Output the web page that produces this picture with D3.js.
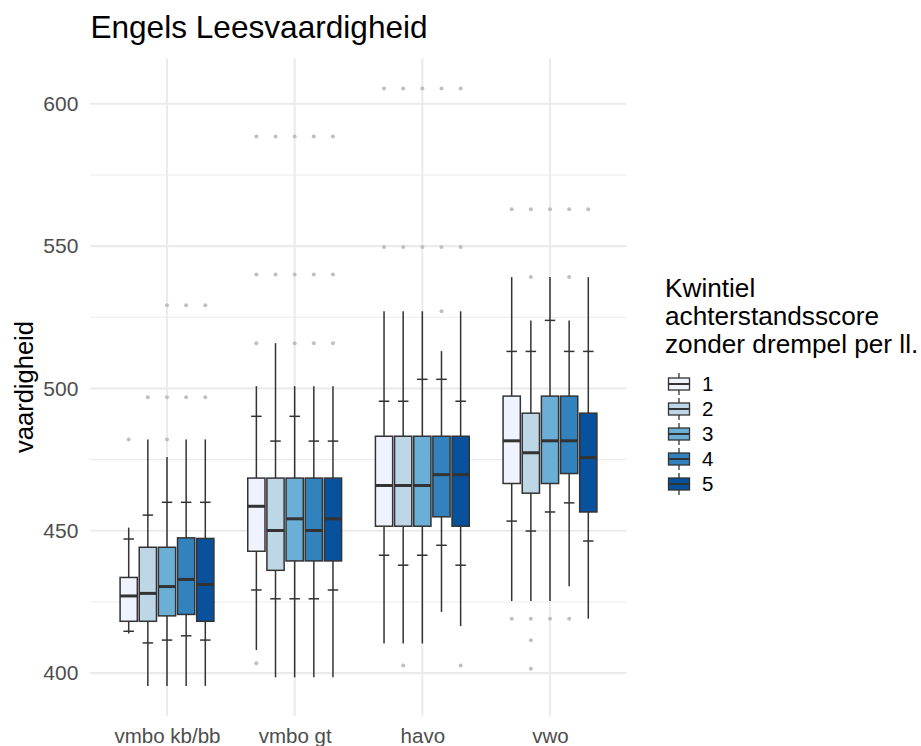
<!DOCTYPE html>
<html>
<head>
<meta charset="utf-8">
<script src="https://cdn.jsdelivr.net/npm/d3@7"></script>
<style>
  html, body { margin: 0; padding: 0; background: #ffffff; }
  svg { display: block; font-family: "Liberation Sans", Arial, Helvetica, sans-serif; }
</style>
</head>
<body>
<svg id="chart" width="921" height="746"></svg>
<script>
// Schooltypes on the x axis and the five quintile groups within each
const categories = ["vmbo kb/bb", "vmbo gt", "havo", "vwo"];
const quintiles = ["1", "2", "3", "4", "5"];
const fills = ["#eff3ff", "#bdd7e7", "#6baed6", "#3182bd", "#08519c"];

// Box statistics per schooltype (rows) and quintile (columns)
const whiskerHigh = [
  [451.1, 482.1, 475.9, 482.1, 482.1],
  [500.8, 515.9, 500.8, 500.8, 500.8],
  [527.1, 527.1, 527.1, 513.1, 527.1],
  [539.1, 523.9, 539.1, 523.9, 539.1]
];
const tickHigh = [
  [447.1, 455.5, 460.0, 460.0, 460.0],
  [490.2, 481.5, 490.2, 481.5, 481.5],
  [495.5, 495.5, 503.2, 503.2, 495.5],
  [513.0, 513.0, 523.9, 513.0, 513.0]
];
const q3 = [
  [433.6, 444.2, 444.2, 447.5, 447.3],
  [468.5, 468.5, 468.5, 468.5, 468.5],
  [483.2, 483.2, 483.2, 483.2, 483.2],
  [497.3, 491.3, 497.3, 497.3, 491.3]
];
const median = [
  [427.1, 428.0, 430.4, 432.9, 431.1],
  [458.6, 450.1, 454.2, 450.1, 454.2],
  [465.9, 465.9, 465.9, 469.7, 469.7],
  [481.6, 477.4, 481.6, 481.6, 475.7]
];
const q1 = [
  [418.2, 418.2, 420.1, 420.6, 418.2],
  [442.8, 436.1, 439.4, 439.4, 439.4],
  [451.6, 451.6, 451.6, 454.9, 451.6],
  [466.6, 463.2, 466.6, 470.1, 456.6]
];
const tickLow = [
  [414.7, 410.6, 411.6, 413.1, 411.6],
  [429.2, 426.1, 426.1, 426.1, 429.2],
  [441.4, 437.9, 441.4, 444.9, 437.9],
  [453.4, 449.9, 456.6, 459.8, 446.4]
];
const whiskerLow = [
  [413.9, 395.5, 395.5, 395.5, 395.5],
  [408.1, 398.5, 398.5, 398.5, 398.5],
  [410.4, 410.4, 410.4, 421.5, 416.5],
  [425.3, 425.3, 425.3, 430.5, 419.1]
];
// Outlying scores: [schooltype index, quintile index, value]
const outliers = [
  [0, 0, 482.1], [0, 1, 496.9], [0, 2, 496.9], [0, 2, 482.1], [0, 2, 529.2],
  [0, 3, 496.9], [0, 3, 529.2], [0, 4, 496.9], [0, 4, 529.2],
  [1, 0, 588.5], [1, 0, 540.0], [1, 0, 515.9], [1, 0, 403.5],
  [1, 1, 588.5], [1, 1, 540.0],
  [1, 2, 588.5], [1, 2, 540.0], [1, 2, 515.9],
  [1, 3, 588.5], [1, 3, 540.0], [1, 3, 515.9],
  [1, 4, 588.5], [1, 4, 540.0], [1, 4, 515.9],
  [2, 0, 605.4], [2, 0, 549.7],
  [2, 1, 605.4], [2, 1, 549.7], [2, 1, 402.7],
  [2, 2, 605.4], [2, 2, 549.7],
  [2, 3, 605.4], [2, 3, 549.7], [2, 3, 527.1],
  [2, 4, 605.4], [2, 4, 549.7], [2, 4, 402.7],
  [3, 0, 562.9], [3, 0, 419.1],
  [3, 1, 562.9], [3, 1, 539.1], [3, 1, 419.1], [3, 1, 411.5], [3, 1, 401.5],
  [3, 2, 562.9], [3, 2, 419.1],
  [3, 3, 562.9], [3, 3, 539.1], [3, 3, 419.1],
  [3, 4, 562.9]
];
const yTicks = [400, 450, 500, 550, 600];
const yMinor = [425, 475, 525, 575];

const titleText = "Engels Leesvaardigheid";
const yTitle = "vaardigheid";
const legendTitle = ["Kwintiel", "achterstandsscore", "zonder drempel per ll."];

// Panel geometry
const panel = { left: 90.4, right: 626.6, top: 58.2, bottom: 715.8 };

const svg = d3.select("#chart");

const y = d3.scaleLinear().domain([385, 616]).range([panel.bottom, panel.top]);
const x = d3.scalePoint().domain(categories).range([panel.left, panel.right]).padding(0.6);
const dodge = d3.scaleBand().domain(quintiles).range([-x.step() * 0.375, x.step() * 0.375]);
const boxW = dodge.bandwidth() * 0.9;
const tickW = 10.5;
const dark = "#333333";

// Grid
const grid = svg.append("g");
grid.selectAll("line.minor").data(yMinor).join("line")
  .attr("x1", panel.left).attr("x2", panel.right)
  .attr("y1", d => y(d)).attr("y2", d => y(d))
  .attr("stroke", "#ebebeb").attr("stroke-width", 1.07);
grid.selectAll("line.major").data(yTicks).join("line")
  .attr("x1", panel.left).attr("x2", panel.right)
  .attr("y1", d => y(d)).attr("y2", d => y(d))
  .attr("stroke", "#ebebeb").attr("stroke-width", 2.13);
grid.selectAll("line.vmajor").data(categories).join("line")
  .attr("x1", d => x(d)).attr("x2", d => x(d))
  .attr("y1", panel.top).attr("y2", panel.bottom)
  .attr("stroke", "#ebebeb").attr("stroke-width", 2.13);

// Outliers
svg.append("g").selectAll("circle").data(outliers).join("circle")
  .attr("cx", d => x(categories[d[0]]) + dodge(quintiles[d[1]]) + dodge.bandwidth() / 2)
  .attr("cy", d => y(d[2]))
  .attr("r", 2)
  .attr("fill", "#bfbfbf");

// Boxes
const boxes = [];
categories.forEach((c, i) => quintiles.forEach((q, j) => boxes.push({ c, q, i, j })));

const bx = svg.append("g").selectAll("g").data(boxes).join("g")
  .attr("transform", d => `translate(${x(d.c) + dodge(d.q) + dodge.bandwidth() / 2},0)`);

bx.append("line")
  .attr("x1", 0).attr("x2", 0)
  .attr("y1", d => y(whiskerHigh[d.i][d.j])).attr("y2", d => y(q3[d.i][d.j]))
  .attr("stroke", dark).attr("stroke-width", 1.5);
bx.append("line")
  .attr("x1", 0).attr("x2", 0)
  .attr("y1", d => y(q1[d.i][d.j])).attr("y2", d => y(whiskerLow[d.i][d.j]))
  .attr("stroke", dark).attr("stroke-width", 1.5);
bx.append("line")
  .attr("x1", -tickW / 2).attr("x2", tickW / 2)
  .attr("y1", d => y(tickHigh[d.i][d.j])).attr("y2", d => y(tickHigh[d.i][d.j]))
  .attr("stroke", dark).attr("stroke-width", 1.5);
bx.append("line")
  .attr("x1", -tickW / 2).attr("x2", tickW / 2)
  .attr("y1", d => y(tickLow[d.i][d.j])).attr("y2", d => y(tickLow[d.i][d.j]))
  .attr("stroke", dark).attr("stroke-width", 1.5);
bx.append("rect")
  .attr("x", -boxW / 2).attr("width", boxW)
  .attr("y", d => y(q3[d.i][d.j]))
  .attr("height", d => y(q1[d.i][d.j]) - y(q3[d.i][d.j]))
  .attr("fill", d => fills[d.j])
  .attr("stroke", dark).attr("stroke-width", 1.5);
bx.append("line")
  .attr("x1", -boxW / 2).attr("x2", boxW / 2)
  .attr("y1", d => y(median[d.i][d.j])).attr("y2", d => y(median[d.i][d.j]))
  .attr("stroke", dark).attr("stroke-width", 3);

// Axes (text only, no axis lines or ticks)
const yAxis = svg.append("g").attr("transform", `translate(${panel.left},0)`)
  .call(d3.axisLeft(y).tickValues(yTicks).tickSize(0).tickPadding(12));
yAxis.select(".domain").remove();
yAxis.selectAll("text")
  .attr("font-size", 21).attr("fill", "#4d4d4d")
  .attr("font-family", "Liberation Sans, Arial, sans-serif");

const xAxis = svg.append("g").attr("transform", `translate(0,${panel.bottom})`)
  .call(d3.axisBottom(x).tickSize(0).tickPadding(12.5));
xAxis.select(".domain").remove();
xAxis.selectAll("text")
  .attr("font-size", 20.5).attr("fill", "#4d4d4d")
  .attr("font-family", "Liberation Sans, Arial, sans-serif");

// Titles
svg.append("text")
  .attr("x", panel.left).attr("y", 38)
  .attr("font-size", 31.6).attr("fill", "#000")
  .text(titleText);

svg.append("text")
  .attr("transform", `translate(33,${(panel.top + panel.bottom) / 2}) rotate(-90)`)
  .attr("text-anchor", "middle")
  .attr("font-size", 25.5).attr("fill", "#000")
  .text(yTitle);

// Legend
const legend = svg.append("g").attr("transform", "translate(665,0)");
legend.selectAll("text.title").data(legendTitle).join("text")
  .attr("x", 0).attr("y", (d, k) => 297 + k * 28)
  .attr("font-size", 26.2).attr("fill", "#000")
  .text(d => d);

const keys = legend.selectAll("g.key").data(quintiles).join("g")
  .attr("transform", (d, k) => `translate(14,${384 + k * 25})`);
keys.append("line")
  .attr("x1", 0).attr("x2", 0).attr("y1", -11).attr("y2", 11)
  .attr("stroke", dark).attr("stroke-width", 1.3);
keys.append("rect")
  .attr("x", -10.5).attr("y", -6).attr("width", 21).attr("height", 12)
  .attr("fill", (d, k) => fills[k])
  .attr("stroke", dark).attr("stroke-width", 1.3);
keys.append("line")
  .attr("x1", -10.5).attr("x2", 10.5).attr("y1", 0).attr("y2", 0)
  .attr("stroke", dark).attr("stroke-width", 2);
keys.append("text")
  .attr("x", 23).attr("y", 0).attr("dy", "0.36em")
  .attr("font-size", 20.5).attr("fill", "#000")
  .text(d => d);
</script>
</body>
</html>
